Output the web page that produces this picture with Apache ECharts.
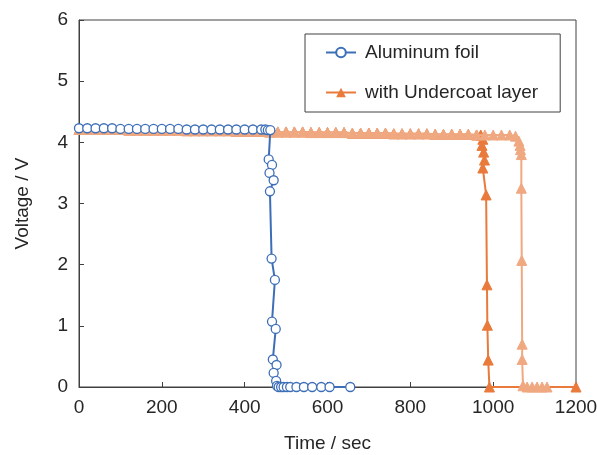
<!DOCTYPE html>
<html>
<head>
<meta charset="utf-8">
<script src="https://cdn.jsdelivr.net/npm/echarts@6/dist/echarts.min.js"></script>
<style>
  html, body { margin: 0; padding: 0; background: #fff; }
  #chart { width: 597px; height: 455px; }
</style>
</head>
<body>
<div id="chart"></div>
<script>
// Discharge curves: voltage vs. time
// Aluminum foil (plain) — time [sec] and voltage [V]
const alTime = [0, 20, 40, 60, 80, 100, 120, 140, 160, 180, 200, 220, 240, 260, 280, 300, 320, 340, 360, 380, 400, 420, 440,
  450, 456, 462,
  458, 466, 460, 470, 461, 465, 473, 466, 475, 468, 477, 470, 476, 478,
  482, 488, 494, 502, 510, 525, 543, 563, 585, 605, 655];
const alVolt = [4.23, 4.23, 4.23, 4.23, 4.23, 4.22, 4.22, 4.22, 4.22, 4.22, 4.22, 4.22, 4.22, 4.21, 4.21, 4.21, 4.21, 4.21, 4.21, 4.21, 4.21, 4.21, 4.21,
  4.21, 4.2, 4.2,
  3.72, 3.63, 3.5, 3.38, 3.2, 2.1, 1.75, 1.07, 0.95, 0.45, 0.36, 0.23, 0.1, 0.02,
  0, 0, 0, 0, 0, 0, 0, 0, 0, 0, 0];

// With undercoat layer — cell 1
const ucTime = [0, 20, 40, 60, 80, 100, 120, 140, 160, 180, 200, 220, 240, 260, 280, 300, 320, 340, 360, 380,
  400, 420, 440, 460, 480, 500, 520, 540, 560, 580, 600, 620, 640, 660, 680, 700, 720, 740, 760, 780,
  800, 820, 840, 860, 880, 900, 920, 940, 960, 970,
  975, 973, 977, 979, 975, 983, 985, 986, 988, 991, 1200];
const ucVolt = [4.21, 4.21, 4.21, 4.21, 4.21, 4.21, 4.2, 4.2, 4.2, 4.2, 4.2, 4.2, 4.2, 4.19, 4.19, 4.19, 4.19, 4.19, 4.19, 4.18,
  4.18, 4.18, 4.18, 4.17, 4.17, 4.17, 4.17, 4.17, 4.16, 4.16, 4.16, 4.16, 4.16, 4.15, 4.15, 4.15, 4.15, 4.15, 4.14, 4.14,
  4.14, 4.14, 4.14, 4.13, 4.13, 4.13, 4.13, 4.13, 4.12, 4.12,
  4.05, 3.95, 3.84, 3.71, 3.58, 3.14, 1.67, 1.01, 0.44, 0, 0];

// With undercoat layer — cell 2
const uc2Time = [0, 20, 40, 60, 80, 100, 120, 140, 160, 180, 200, 220, 240, 260, 280, 300, 320, 340, 360, 380,
  400, 420, 440, 460, 480, 500, 520, 540, 560, 580, 600, 620, 640, 660, 680, 700, 720, 740, 760, 780,
  800, 820, 840, 860, 880, 900, 920, 940, 960, 980, 1000, 1020, 1040, 1054,
  1062, 1065, 1066, 1068, 1068, 1069, 1070, 1070, 1072,
  1082, 1094, 1106, 1118, 1130];
const uc2Volt = [4.21, 4.21, 4.21, 4.21, 4.21, 4.21, 4.2, 4.2, 4.2, 4.2, 4.2, 4.2, 4.2, 4.19, 4.19, 4.19, 4.19, 4.19, 4.19, 4.18,
  4.18, 4.18, 4.18, 4.17, 4.17, 4.17, 4.17, 4.17, 4.16, 4.16, 4.16, 4.16, 4.16, 4.15, 4.15, 4.15, 4.15, 4.15, 4.14, 4.14,
  4.14, 4.14, 4.14, 4.13, 4.13, 4.13, 4.13, 4.13, 4.12, 4.12, 4.12, 4.12, 4.12, 4.1,
  4.02, 3.95, 3.88, 3.8, 3.25, 2.07, 0.7, 0.45, 0.02,
  0, 0, 0, 0, 0];

const xTicks = [0, 200, 400, 600, 800, 1000, 1200];
const yTicks = [0, 1, 2, 3, 4, 5, 6];

const pairs = (xs, ys) => xs.map((x, i) => [x, ys[i]]);

const BLUE = '#3d6fb8';
const ORANGE = '#e97a3b';
const ORANGE_LIGHT = '#f0a881';
const AXIS = '#404040';
const TEXT = '#262626';
const FONT = 'Liberation Sans, Arial, sans-serif';
const FS = 19;

const chart = echarts.init(document.getElementById('chart'), null, { renderer: 'canvas' });
chart.setOption({
  animation: false,
  backgroundColor: '#ffffff',
  textStyle: { fontFamily: FONT },
  grid: {
    left: 79, right: 21, top: 20, bottom: 68,
    containLabel: false,
    outerBoundsMode: 'none',
    show: true, borderColor: AXIS, borderWidth: 1, backgroundColor: 'transparent'
  },
  legend: {
    data: ['Aluminum foil', 'with Undercoat layer'],
    orient: 'vertical',
    left: 305, top: 34,
    padding: [9, 22, 10, 20],
    itemGap: 21,
    itemWidth: 30, itemHeight: 12,
    borderColor: AXIS, borderWidth: 1,
    backgroundColor: '#fff',
    textStyle: { fontSize: FS, color: TEXT, fontFamily: FONT, padding: [0, 0, 0, 4] }
  },
  xAxis: {
    type: 'value',
    min: xTicks[0], max: xTicks[xTicks.length - 1], interval: 200,
    name: 'Time / sec', nameLocation: 'middle', nameGap: 47,
    nameTextStyle: { fontSize: FS, color: TEXT },
    axisLine: { show: true, onZero: false, lineStyle: { color: AXIS, width: 1 } },
    axisTick: { show: true, inside: true, length: 5, lineStyle: { color: AXIS } },
    axisLabel: { fontSize: FS, color: TEXT, margin: 11, formatter: v => String(v) },
    splitLine: { show: false }
  },
  yAxis: {
    type: 'value',
    min: yTicks[0], max: yTicks[yTicks.length - 1], interval: 1,
    name: 'Voltage / V', nameLocation: 'middle', nameGap: 47, nameRotate: 90,
    nameTextStyle: { fontSize: FS, color: TEXT },
    axisLine: { show: true, onZero: false, lineStyle: { color: AXIS, width: 1 } },
    axisTick: { show: true, inside: true, length: 5, lineStyle: { color: AXIS } },
    axisLabel: { fontSize: FS, color: TEXT, margin: 11, formatter: v => String(v) },
    splitLine: { show: false }
  },
  series: [
    {
      name: 'with Undercoat layer',
      type: 'line',
      data: pairs(ucTime, ucVolt),
      symbol: 'triangle', symbolSize: 10,
      lineStyle: { color: ORANGE, width: 2 },
      itemStyle: { color: ORANGE, borderColor: ORANGE },
      z: 2
    },
    {
      name: 'with Undercoat layer (2)',
      type: 'line',
      data: pairs(uc2Time, uc2Volt),
      symbol: 'triangle', symbolSize: 10,
      lineStyle: { color: ORANGE_LIGHT, width: 2 },
      itemStyle: { color: ORANGE_LIGHT, borderColor: ORANGE_LIGHT },
      z: 3
    },
    {
      name: 'Aluminum foil',
      type: 'line',
      data: pairs(alTime, alVolt),
      symbol: 'circle', symbolSize: 9,
      lineStyle: { color: BLUE, width: 2 },
      itemStyle: { color: '#ffffff', borderColor: BLUE, borderWidth: 1.3 },
      z: 4
    }
  ]
});
</script>
</body>
</html>
